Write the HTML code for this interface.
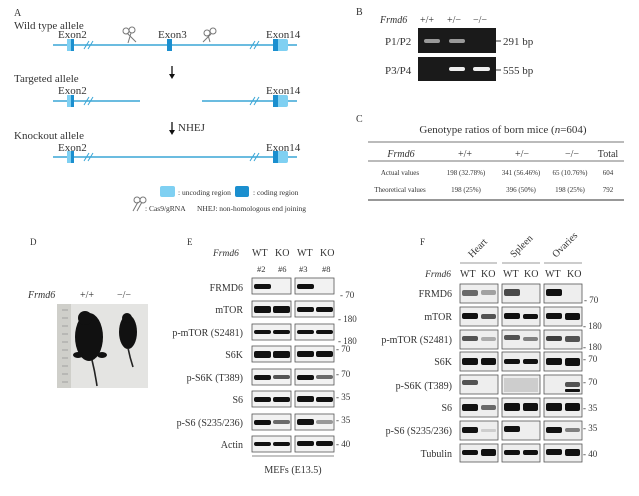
<!DOCTYPE html>
<html><head><meta charset="utf-8"><style>
html,body{margin:0;padding:0;background:#fff;}
svg{display:block;font-family:"Liberation Serif",serif;}
</style></head><body>
<svg width="639" height="496" viewBox="0 0 639 496" xmlns="http://www.w3.org/2000/svg">
<rect width="639" height="496" fill="#fff"/>
<!-- Panel A -->
<g font-size="11" fill="#333">
<text x="14" y="16" font-size="10">A</text>
<text x="14" y="29">Wild type allele</text>
<text x="14" y="82">Targeted allele</text>
<text x="14" y="139">Knockout allele</text>
<text x="58" y="38">Exon2</text><text x="158" y="38">Exon3</text><text x="266" y="38">Exon14</text>
<text x="58" y="94">Exon2</text><text x="266" y="94">Exon14</text>
<text x="58" y="151">Exon2</text><text x="266" y="151">Exon14</text>
<text x="178" y="131">NHEJ</text>
</g>
<g stroke="#3aa6d6" stroke-width="1.5">
<line x1="53" y1="45" x2="297" y2="45"/>
<line x1="53" y1="101" x2="140" y2="101"/><line x1="202" y1="101" x2="297" y2="101"/>
<line x1="53" y1="157" x2="297" y2="157"/>
</g>
<g stroke="#3aa6d6" stroke-width="1">
<path d="M84 49 L89 41 M88 49 L93 41 M250 49 L255 41 M254 49 L259 41"/>
<path d="M84 105 L89 97 M88 105 L93 97 M250 105 L255 97 M254 105 L259 97"/>
<path d="M84 161 L89 153 M88 161 L93 153 M250 161 L255 153 M254 161 L259 153"/>
</g>
<g>
<rect x="67" y="39" width="7" height="12" fill="#7fd0f2"/><rect x="71" y="39" width="3" height="12" fill="#1b8fcf"/>
<rect x="167" y="39" width="5" height="12" fill="#1b8fcf"/>
<rect x="273" y="39" width="15" height="12" rx="2" fill="#7fd0f2"/><rect x="273" y="39" width="5" height="12" fill="#1b8fcf"/>
<rect x="67" y="95" width="7" height="12" fill="#7fd0f2"/><rect x="71" y="95" width="3" height="12" fill="#1b8fcf"/>
<rect x="273" y="95" width="15" height="12" rx="2" fill="#7fd0f2"/><rect x="273" y="95" width="5" height="12" fill="#1b8fcf"/>
<rect x="67" y="151" width="7" height="12" fill="#7fd0f2"/><rect x="71" y="151" width="3" height="12" fill="#1b8fcf"/>
<rect x="273" y="151" width="15" height="12" rx="2" fill="#7fd0f2"/><rect x="273" y="151" width="5" height="12" fill="#1b8fcf"/>
</g>
<g stroke="#111" stroke-width="1.3" fill="#111">
<line x1="172" y1="66" x2="172" y2="76"/><path d="M169 74 L175 74 L172 79 Z" stroke="none"/>
<line x1="172" y1="122" x2="172" y2="132"/><path d="M169 130 L175 130 L172 135 Z" stroke="none"/>
</g>
<g fill="none" stroke="#777" stroke-width="1">
<circle cx="126" cy="31" r="3"/><circle cx="132" cy="30" r="3"/><path d="M127 33 L136 42 M131 33 L128 43"/>
<circle cx="213" cy="31" r="3"/><circle cx="207" cy="33" r="3"/><path d="M211 34 L203 42 M208 35 L210 42"/>
<circle cx="137" cy="200" r="3"/><circle cx="143" cy="200" r="3"/><path d="M138 202 L133 211 M142 202 L137 211"/>
</g>
<rect x="160" y="186" width="15" height="11" rx="2" fill="#7fd0f2"/>
<rect x="235" y="186" width="14" height="11" rx="2" fill="#1b8fcf"/>
<g font-size="7.5" fill="#333">
<text x="178" y="195">: uncoding region</text>
<text x="253" y="195">: coding region</text>
<text x="145" y="211">: Cas9/gRNA</text>
<text x="197" y="211">NHEJ: non-homologous end joining</text>
</g>
<!-- Panel B -->
<g font-size="10" fill="#333">
<text x="356" y="15">B</text>
<text x="380" y="23" font-style="italic">Frmd6</text>
<text x="420" y="23">+/+</text><text x="447" y="23">+/−</text><text x="473" y="23">−/−</text>
<text x="385" y="45" font-size="11">P1/P2</text>
<text x="385" y="74" font-size="11">P3/P4</text>
<text x="503" y="45" font-size="11">291 bp</text>
<text x="503" y="74" font-size="11">555 bp</text>
</g>
<rect x="418" y="28" width="78" height="25" fill="#1a1a1a"/>
<rect x="418" y="57" width="78" height="24" fill="#1a1a1a"/>
<g stroke="#333"><line x1="496" y1="41" x2="501" y2="41"/><line x1="496" y1="70" x2="501" y2="70"/></g>
<rect x="424" y="39" width="16" height="4" rx="2" fill="#999"/>
<rect x="449" y="39" width="16" height="4" rx="2" fill="#999"/>
<rect x="449" y="67" width="16" height="4" rx="2" fill="#eee"/>
<rect x="473" y="67" width="17" height="4" rx="2" fill="#eee"/>
<!-- Panel C -->
<g fill="#333">
<text x="356" y="122" font-size="10">C</text>
<text x="503" y="133" font-size="11" text-anchor="middle">Genotype ratios of born mice (<tspan font-style="italic">n</tspan>=604)</text>
<g font-size="10" text-anchor="middle">
<text x="401" y="157" font-style="italic">Frmd6</text><text x="465" y="157">+/+</text><text x="522" y="157">+/−</text><text x="572" y="157">−/−</text><text x="608" y="157">Total</text>
</g>
<g font-size="7" text-anchor="middle">
<text x="400" y="175">Actual values</text><text x="466" y="175">198 (32.78%)</text><text x="521" y="175">341 (56.46%)</text><text x="570" y="175">65 (10.76%)</text><text x="608" y="175">604</text>
<text x="400" y="192">Theoretical values</text><text x="466" y="192">198 (25%)</text><text x="521" y="192">396 (50%)</text><text x="570" y="192">198 (25%)</text><text x="608" y="192">792</text>
</g>
</g>
<g stroke="#777"><line x1="368" y1="142" x2="624" y2="142"/><line x1="368" y1="161" x2="624" y2="161"/><line x1="368" y1="200" x2="624" y2="200" stroke-width="1.5"/></g>
<!-- Panel D -->
<g fill="#333" font-size="10">
<text x="30" y="245" font-size="9">D</text>
<text x="28" y="298" font-style="italic">Frmd6</text>
<text x="80" y="298">+/+</text><text x="117" y="298">−/−</text>
</g>
<rect x="57" y="304" width="91" height="84" fill="#e4e4e2"/>
<rect x="57" y="304" width="14" height="84" fill="#cfcfca"/>
<g stroke="#777" stroke-width="0.6"><path d="M62 310h6M62 318h6M62 326h6M62 334h6M62 342h6M62 350h6M62 358h6M62 366h6M62 374h6M62 382h6"/></g>
<g fill="#111">
<ellipse cx="89" cy="337" rx="14" ry="24"/><ellipse cx="85" cy="318" rx="7" ry="7"/>
<ellipse cx="78" cy="355" rx="5" ry="3"/><ellipse cx="102" cy="355" rx="5" ry="3"/>
<ellipse cx="128" cy="332" rx="9" ry="17"/><ellipse cx="127" cy="318" rx="5" ry="5"/>
</g>
<g stroke="#222" stroke-width="1.6" fill="none"><path d="M92 360 Q95 372 97 386"/><path d="M128 348 Q130 358 133 367"/></g>
<!-- Panel E -->
<g fill="#333" font-size="10">
<text x="187" y="245" font-size="9">E</text>
<text x="213" y="256" font-style="italic" font-size="9.5">Frmd6</text>
<text x="252" y="256">WT</text><text x="275" y="256">KO</text><text x="297" y="256">WT</text><text x="320" y="256">KO</text>
<g font-size="8.5"><text x="257" y="272">#2</text><text x="278" y="272">#6</text><text x="299" y="272">#3</text><text x="322" y="272">#8</text></g>
<g text-anchor="end"><text x="243" y="291">FRMD6</text><text x="243" y="313">mTOR</text><text x="243" y="336">p-mTOR (S2481)</text><text x="243" y="358">S6K</text><text x="243" y="381">p-S6K (T389)</text><text x="243" y="403">S6</text><text x="243" y="426">p-S6 (S235/236)</text><text x="243" y="448">Actin</text></g>
<g font-size="9"><text x="340" y="298">- 70</text><text x="338" y="322">- 180</text><text x="338" y="344">- 180</text><text x="336" y="352">- 70</text><text x="336" y="377">- 70</text><text x="336" y="400">- 35</text><text x="336" y="423">- 35</text><text x="336" y="447">- 40</text></g>
<text x="293" y="473" text-anchor="middle">MEFs (E13.5)</text>
</g>
<line x1="252" y1="456" x2="334" y2="456" stroke="#888"/>
<g fill="#f2f2f2" stroke="#555" stroke-width="0.8">
<rect x="252" y="278" width="39" height="16"/><rect x="295" y="278" width="39" height="16"/>
<rect x="252" y="301" width="39" height="16"/><rect x="295" y="301" width="39" height="16"/>
<rect x="252" y="324" width="39" height="16"/><rect x="295" y="324" width="39" height="16"/>
<rect x="252" y="346" width="39" height="16"/><rect x="295" y="346" width="39" height="16"/>
<rect x="252" y="369" width="39" height="16"/><rect x="295" y="369" width="39" height="16"/>
<rect x="252" y="391" width="39" height="16"/><rect x="295" y="391" width="39" height="16"/>
<rect x="252" y="414" width="39" height="16"/><rect x="295" y="414" width="39" height="16"/>
<rect x="252" y="436" width="39" height="16"/><rect x="295" y="436" width="39" height="16"/>
</g>
<g fill="#111">
<rect x="254" y="284" width="17" height="5" rx="2"/><rect x="297" y="284" width="17" height="5" rx="2"/>
<rect x="254" y="306" width="17" height="7" rx="2"/><rect x="273" y="306" width="17" height="7" rx="2"/><rect x="297" y="307" width="17" height="5" rx="2"/><rect x="316" y="307" width="17" height="5" rx="2"/>
<rect x="254" y="330" width="17" height="4" rx="2"/><rect x="273" y="330" width="17" height="4" rx="2"/><rect x="297" y="330" width="17" height="4" rx="2"/><rect x="316" y="330" width="17" height="4" rx="2"/>
<rect x="254" y="351" width="17" height="7" rx="2"/><rect x="273" y="351" width="17" height="7" rx="2"/><rect x="297" y="351" width="17" height="6" rx="2"/><rect x="316" y="351" width="17" height="6" rx="2"/>
<rect x="254" y="375" width="17" height="5" rx="2"/><rect x="273" y="375" width="17" height="4" rx="2" opacity="0.7"/><rect x="297" y="375" width="17" height="5" rx="2"/><rect x="316" y="375" width="17" height="4" rx="2" opacity="0.6"/>
<rect x="254" y="397" width="17" height="5" rx="2"/><rect x="273" y="397" width="17" height="5" rx="2"/><rect x="297" y="396" width="17" height="6" rx="2"/><rect x="316" y="397" width="17" height="5" rx="2"/>
<rect x="254" y="420" width="17" height="5" rx="2"/><rect x="273" y="420" width="17" height="4" rx="2" opacity="0.6"/><rect x="297" y="419" width="17" height="6" rx="2"/><rect x="316" y="420" width="17" height="4" rx="2" opacity="0.4"/>
<rect x="254" y="442" width="17" height="4" rx="2"/><rect x="273" y="442" width="17" height="4" rx="2"/><rect x="297" y="441" width="17" height="5" rx="2"/><rect x="316" y="441" width="17" height="5" rx="2"/>
</g>
<!-- Panel F -->
<g fill="#333" font-size="10">
<text x="420" y="245" font-size="9">F</text>
<text transform="translate(472,258) rotate(-45)">Heart</text>
<text transform="translate(514,258) rotate(-45)">Spleen</text>
<text transform="translate(556,258) rotate(-45)">Ovaries</text>
<text x="451" y="277" font-style="italic" text-anchor="end" font-size="9.5">Frmd6</text>
<text x="460" y="277">WT</text><text x="481" y="277">KO</text><text x="503" y="277">WT</text><text x="524" y="277">KO</text><text x="545" y="277">WT</text><text x="567" y="277">KO</text>
<g text-anchor="end"><text x="452" y="297">FRMD6</text><text x="452" y="320">mTOR</text><text x="452" y="343">p-mTOR (S2481)</text><text x="452" y="365">S6K</text><text x="452" y="389">p-S6K (T389)</text><text x="452" y="411">S6</text><text x="452" y="434">p-S6 (S235/236)</text><text x="452" y="457">Tubulin</text></g>
<g font-size="9"><text x="584" y="303">- 70</text><text x="583" y="329">- 180</text><text x="583" y="350">- 180</text><text x="583" y="362">- 70</text><text x="583" y="385">- 70</text><text x="583" y="411">- 35</text><text x="583" y="431">- 35</text><text x="583" y="457">- 40</text></g>
</g>
<g stroke="#999"><line x1="460" y1="263" x2="497" y2="263"/><line x1="502" y1="263" x2="540" y2="263"/><line x1="544" y1="263" x2="582" y2="263"/></g>
<g fill="#eee" stroke="#555" stroke-width="0.8">
<rect x="460" y="284" width="38" height="19"/><rect x="502" y="284" width="38" height="19"/><rect x="544" y="284" width="38" height="19"/>
<rect x="460" y="307" width="38" height="19"/><rect x="502" y="307" width="38" height="19"/><rect x="544" y="307" width="38" height="19"/>
<rect x="460" y="330" width="38" height="19"/><rect x="502" y="330" width="38" height="19"/><rect x="544" y="330" width="38" height="19"/>
<rect x="460" y="352" width="38" height="19"/><rect x="502" y="352" width="38" height="19"/><rect x="544" y="352" width="38" height="19"/>
<rect x="460" y="375" width="38" height="19"/><rect x="502" y="375" width="38" height="19"/><rect x="544" y="375" width="38" height="19"/>
<rect x="460" y="398" width="38" height="19"/><rect x="502" y="398" width="38" height="19"/><rect x="544" y="398" width="38" height="19"/>
<rect x="460" y="421" width="38" height="19"/><rect x="502" y="421" width="38" height="19"/><rect x="544" y="421" width="38" height="19"/>
<rect x="460" y="444" width="38" height="18"/><rect x="502" y="444" width="38" height="18"/><rect x="544" y="444" width="38" height="18"/>
</g>
<g fill="#111">
<rect x="462" y="290" width="16" height="6" rx="2" opacity="0.6"/><rect x="481" y="290" width="15" height="5" rx="2" opacity="0.35"/><rect x="504" y="289" width="16" height="7" rx="2" opacity="0.75"/><rect x="546" y="289" width="16" height="7" rx="2"/>
<rect x="462" y="313" width="16" height="6" rx="2"/><rect x="481" y="314" width="15" height="5" rx="2" opacity="0.7"/><rect x="504" y="313" width="16" height="6" rx="2"/><rect x="523" y="314" width="15" height="5" rx="2"/><rect x="546" y="313" width="16" height="6" rx="2"/><rect x="565" y="313" width="15" height="7" rx="2"/>
<rect x="462" y="336" width="16" height="5" rx="2" opacity="0.7"/><rect x="481" y="337" width="15" height="4" rx="2" opacity="0.3"/><rect x="504" y="335" width="16" height="5" rx="2" opacity="0.7"/><rect x="523" y="337" width="15" height="4" rx="2" opacity="0.5"/><rect x="546" y="336" width="16" height="5" rx="2" opacity="0.8"/><rect x="565" y="336" width="15" height="6" rx="2" opacity="0.7"/>
<rect x="462" y="358" width="16" height="7" rx="2"/><rect x="481" y="358" width="15" height="7" rx="2"/><rect x="504" y="359" width="16" height="5" rx="2"/><rect x="523" y="359" width="15" height="5" rx="2"/><rect x="546" y="358" width="16" height="7" rx="2"/><rect x="565" y="358" width="15" height="8" rx="2"/>
<rect x="462" y="380" width="16" height="5" rx="2" opacity="0.7"/><rect x="504" y="378" width="34" height="14" opacity="0.15"/><rect x="565" y="382" width="15" height="5" rx="2" opacity="0.7"/><rect x="565" y="389" width="15" height="3" rx="1"/>
<rect x="462" y="404" width="16" height="7" rx="2"/><rect x="481" y="405" width="15" height="5" rx="2" opacity="0.6"/><rect x="504" y="403" width="16" height="8" rx="2"/><rect x="523" y="403" width="15" height="8" rx="2"/><rect x="546" y="403" width="16" height="8" rx="2"/><rect x="565" y="403" width="15" height="8" rx="2"/>
<rect x="462" y="427" width="16" height="6" rx="2"/><rect x="481" y="429" width="15" height="3" rx="1" opacity="0.15"/><rect x="504" y="426" width="16" height="6" rx="2"/><rect x="546" y="427" width="16" height="6" rx="2"/><rect x="565" y="428" width="15" height="4" rx="2" opacity="0.5"/>
<rect x="462" y="450" width="16" height="5" rx="2"/><rect x="481" y="449" width="15" height="7" rx="2"/><rect x="504" y="450" width="16" height="5" rx="2"/><rect x="523" y="450" width="15" height="5" rx="2"/><rect x="546" y="449" width="16" height="6" rx="2"/><rect x="565" y="449" width="15" height="7" rx="2"/>
</g>
</svg>
</body></html>
